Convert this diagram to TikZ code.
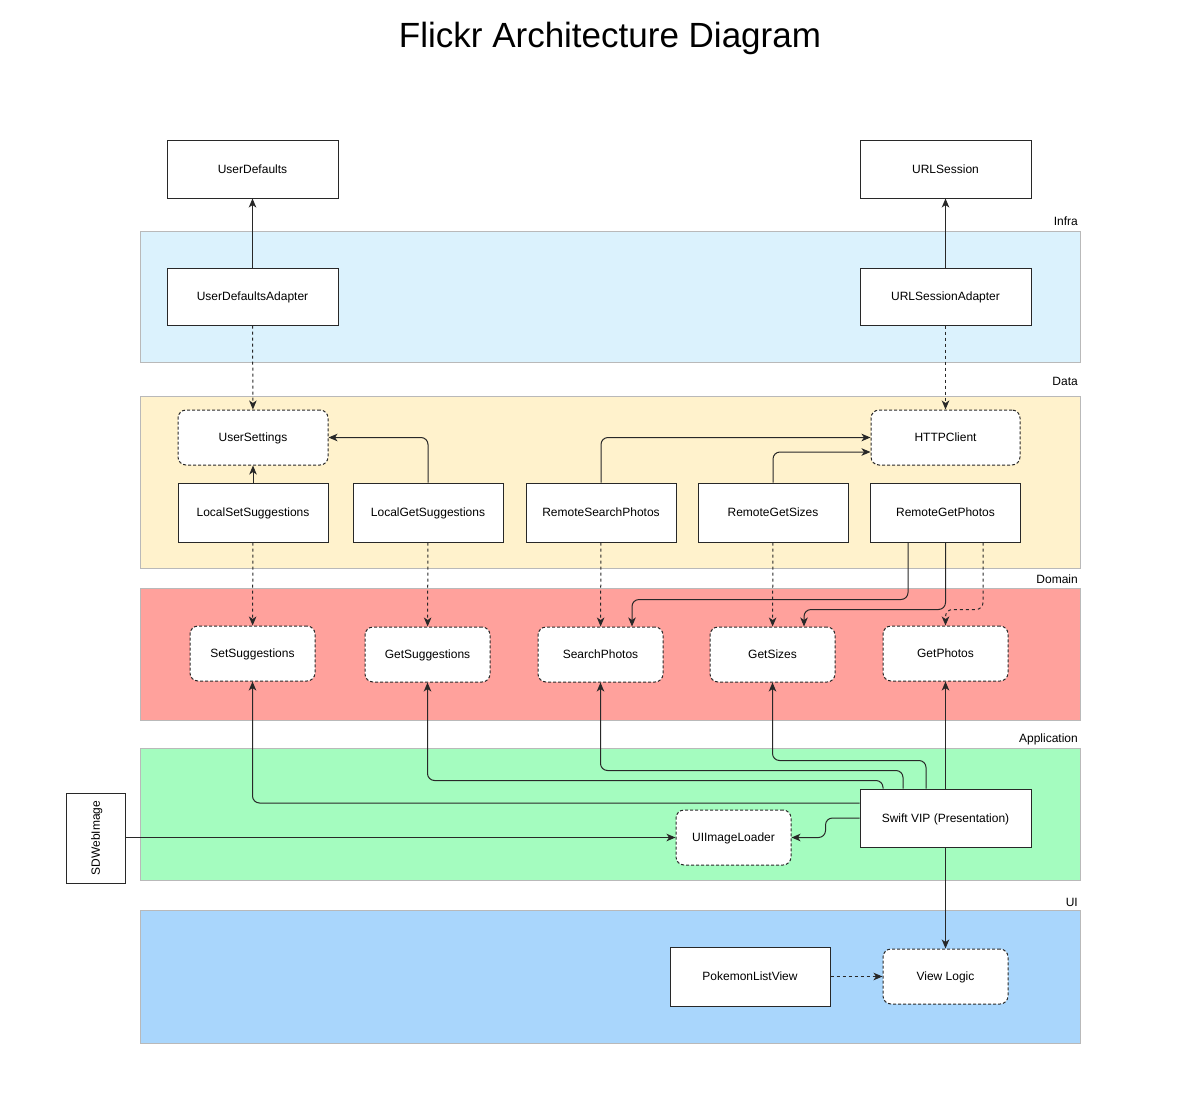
\documentclass[tikz,border=0pt]{standalone}
\usepackage{fontspec}
\setmainfont{Liberation Sans}
\usetikzlibrary{arrows.meta}
\definecolor{infrac}{RGB}{219,242,253}
\definecolor{datac}{RGB}{255,242,204}
\definecolor{domainc}{RGB}{255,161,156}
\definecolor{appc}{RGB}{164,252,191}
\definecolor{uic}{RGB}{169,214,252}
\definecolor{bandline}{RGB}{185,185,185}
\definecolor{edge}{RGB}{40,40,40}
\tikzset{
  band/.style={draw=bandline, line width=1pt},
  bandlabel/.style={anchor=east, inner sep=0pt, font=\fontsize{12}{14}\selectfont},
  box/.style={draw=edge, fill=white, line width=1pt, minimum width=171pt, minimum height=57pt, inner sep=0pt, text height=8.6pt, text depth=0pt, font=\fontsize{12}{14}\selectfont},
  dbox/.style={draw=edge, fill=white, line width=1pt, dash pattern=on 3pt off 2pt, rounded corners=8pt, minimum width=125pt, minimum height=55pt, inner sep=0pt, text height=8.6pt, text depth=0pt, font=\fontsize{12}{14}\selectfont},
  conn/.style={draw=edge, line width=1pt, rounded corners=7pt, -{Stealth[length=9pt,width=7.5pt,inset=2.5pt]}},
  dconn/.style={conn, dash pattern=on 3pt off 3pt},
}
\begin{document}
\begin{tikzpicture}[x=1pt,y=-1pt]
\useasboundingbox[fill=white] (0,0) rectangle (1201,1102);
% title
\node[font=\fontsize{35}{40}\selectfont, inner sep=0pt] (title) at (610,38.5) {Flickr Architecture Diagram};
% bands
\draw[band, fill=infrac] (140,231) rectangle (1080,362);
\draw[band, fill=datac] (140,396) rectangle (1080,568);
\draw[band, fill=domainc] (140,588) rectangle (1080,720);
\draw[band, fill=appc] (140,748) rectangle (1080,880);
\draw[band, fill=uic] (140,910) rectangle (1080,1043);
\node[bandlabel] (linfra) at (1078,221) {Infra};
\node[bandlabel] (ldata) at (1078,381) {Data};
\node[bandlabel] (ldomain) at (1078,579) {Domain};
\node[bandlabel] (lapp) at (1078,739) {Application};
\node[bandlabel] (lui) at (1078,902) {UI};
% top
\node[box] (ud) at (252.5,169.5) {UserDefaults};
\node[box] (us) at (945.5,169.5) {URLSession};
% infra
\node[box] (uda) at (252.5,296.5) {UserDefaultsAdapter};
\node[box] (usa) at (945.5,296.5) {URLSessionAdapter};
% data
\node[dbox, minimum width=150pt] (uset) at (253,437.5) {UserSettings};
\node[dbox, minimum width=149pt] (http) at (945.5,437.5) {HTTPClient};
\node[box, minimum width=150pt, minimum height=59pt] (lss) at (253,512.5) {LocalSetSuggestions};
\node[box, minimum width=150pt, minimum height=59pt] (lgs) at (428,512.5) {LocalGetSuggestions};
\node[box, minimum width=150pt, minimum height=59pt] (rsp) at (601,512.5) {RemoteSearchPhotos};
\node[box, minimum width=150pt, minimum height=59pt] (rgs) at (773,512.5) {RemoteGetSizes};
\node[box, minimum width=150pt, minimum height=59pt] (rgp) at (945.5,512.5) {RemoteGetPhotos};
% domain
\node[dbox] (ss) at (252.5,653.5) {SetSuggestions};
\node[dbox] (gsg) at (427.5,654.5) {GetSuggestions};
\node[dbox] (sp) at (600.5,654.5) {SearchPhotos};
\node[dbox] (gsz) at (772.5,654.5) {GetSizes};
\node[dbox] (gp) at (945.5,653.5) {GetPhotos};
% application
\node[box, minimum width=59pt, minimum height=90pt] (sdw) at (95.5,838) {};
\node[rotate=90, inner sep=0pt, text height=8.6pt, text depth=0pt, font=\fontsize{12}{14}\selectfont] (sdwt) at (sdw.center) {SDWebImage};
\node[dbox, minimum width=115pt] (uil) at (733.5,837.5) {UIImageLoader};
\node[box, minimum height=58pt] (vip) at (945.5,818) {Swift VIP (Presentation)};
% ui
\node[box, minimum width=160pt, minimum height=59pt] (plv) at (750,976.5) {PokemonListView};
\node[dbox] (vl) at (945.5,976.5) {View Logic};
% connectors infra
\draw[conn] (uda) -- (ud);
\draw[conn] (usa) -- (us);
\draw[dconn] (uda) -- (uset);
\draw[dconn] (usa) -- (http);
% data
\draw[conn] (lss) -- (uset);
\draw[conn] (lgs.north) |- (uset.east);
\draw[conn] (rsp.north) |- (http.west);
\draw[conn] (rgs.north) |- ([yshift=-14.5pt]http.west);
\draw[dconn] (lss) -- (ss);
\draw[dconn] (lgs) -- (gsg);
\draw[dconn] (rsp) -- (sp);
\draw[dconn] (rgs) -- (gsz);
\draw[conn] ([xshift=-37.5pt]rgp.south) |- ([xshift=31.5pt,yshift=27pt]sp.north) -- ([xshift=31.5pt]sp.north);
\draw[conn] (rgp.south) |- ([xshift=31.5pt,yshift=17pt]gsz.north) -- ([xshift=31.5pt]gsz.north);
\draw[dconn] ([xshift=37.5pt]rgp.south) |- ([yshift=16pt]gp.north) -- (gp.north);
% application
\draw[conn] (vip) -- (gp);
\draw[conn] ([xshift=-19.5pt]vip.north) |- ([yshift=-78pt]gsz.south) -- (gsz.south);
\draw[conn] ([xshift=-42.5pt]vip.north) |- ([yshift=-88pt]sp.south) -- (sp.south);
\draw[conn] ([xshift=-62.5pt]vip.north) |- ([yshift=-98pt]gsg.south) -- (gsg.south);
\draw[conn] ([yshift=15pt]vip.west) -| (ss.south);
\draw[conn] (vip.west) -- ++(-34,0) |- (uil.east);
\draw[conn] (sdw.east |- uil.west) -- (uil.west);
\draw[conn] (vip) -- (vl);
\draw[dconn] (plv) -- (vl);
\end{tikzpicture}
\end{document}
